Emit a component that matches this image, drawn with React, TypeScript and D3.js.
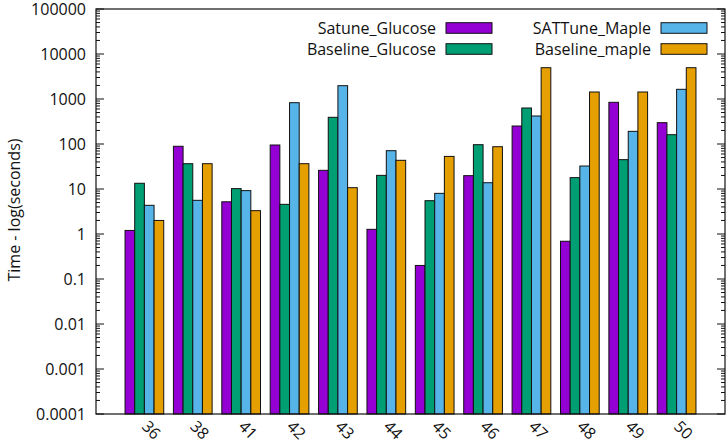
import React from "react";
import * as d3 from "d3";

const categories = ["36", "38", "41", "42", "43", "44", "45", "46", "47", "48", "49", "50"];
const satuneGlucose = [1.2, 89, 5.2, 95, 26, 1.27, 0.2, 19.8, 251, 0.69, 844, 298];
const baselineGlucose = [13.4, 36.5, 10.2, 4.56, 392, 20.1, 5.5, 96.6, 631, 17.9, 44.9, 161];
const sattuneMaple = [4.34, 5.6, 9.2, 828, 1977, 71, 8.0, 13.8, 419, 32.4, 191, 1641];
const baselineMaple = [2.0, 36.5, 3.3, 36.5, 10.7, 43.4, 53, 87, 4960, 1431, 1431, 4960];
const yTickLabels = ["0.0001", "0.001", "0.01", "0.1", "1", "10", "100", "1000", "10000", "100000"];

const series = [
  { name: "Satune_Glucose", values: satuneGlucose, color: "#9400d3" },
  { name: "Baseline_Glucose", values: baselineGlucose, color: "#009e73" },
  { name: "SATTune_Maple", values: sattuneMaple, color: "#56b4e9" },
  { name: "Baseline_maple", values: baselineMaple, color: "#e69f00" },
];

const W = 726;
const H = 443;
const left = 96;
const right = 725;
const top = 9;
const bottom = 414;
const font = "'Open Sans', sans-serif";
const fs = 16;

export default function App() {
  const x = d3.scaleLinear().domain([-1, categories.length]).range([left, right]);
  const y = d3.scaleLog().domain([1e-4, 1e5]).range([bottom, top]);
  const unit = x(1) - x(0);
  const barW = unit * 0.2;

  const majors = yTickLabels.map((t) => +t);
  const minors: number[] = [];
  for (let k = -4; k < 5; k++) {
    for (let m = 2; m <= 9; m++) minors.push(m * Math.pow(10, k));
  }

  // legend: two columns of two entries
  const legendCols = [
    { textEnd: 436, swatchX: 446 },
    { textEnd: 651, swatchX: 661 },
  ];
  const legendRows = [28, 49];

  return (
    <svg
      width={W}
      height={H}
      style={{ position: "absolute", left: 0, top: 0, background: "#fff" }}
      fontFamily={font}
    >
      <rect x={0} y={0} width={W} height={H} fill="#fff" />

      {/* bars */}
      {series.map((s, j) =>
        s.values.map((v, i) => {
          const bx = x(i) - unit * 0.4 + j * barW;
          const by = y(v);
          return (
            <rect
              key={`${j}-${i}`}
              x={bx}
              y={by}
              width={barW}
              height={bottom - by}
              fill={s.color}
              stroke="#111"
              strokeWidth={1}
            />
          );
        })
      )}

      {/* y ticks, mirrored on the right */}
      {majors.map((v, i) => (
        <g key={`M${i}`}>
          <line x1={left} x2={left + 8} y1={y(v)} y2={y(v)} stroke="#111" />
          <line x1={right} x2={right - 8} y1={y(v)} y2={y(v)} stroke="#111" />
          <text
            x={left - 10}
            y={y(v)}
            dy="0.36em"
            textAnchor="end"
            fontSize={fs}
            fill="#111"
          >
            {yTickLabels[i]}
          </text>
        </g>
      ))}
      {minors.map((v, i) => (
        <g key={`m${i}`}>
          <line x1={left} x2={left + 4} y1={y(v)} y2={y(v)} stroke="#111" />
          <line x1={right} x2={right - 4} y1={y(v)} y2={y(v)} stroke="#111" />
        </g>
      ))}

      {/* plot border */}
      <rect
        x={left}
        y={top}
        width={right - left}
        height={bottom - top}
        fill="none"
        stroke="#111"
        strokeWidth={1.2}
      />

      {/* x tick labels */}
      {categories.map((c, i) => (
        <text
          key={c}
          transform={`translate(${x(i) - 3.5},${427.5}) rotate(45)`}
          fontSize={fs}
          fill="#111"
        >
          {c}
        </text>
      ))}

      {/* y axis title */}
      <text
        transform={`translate(20,210) rotate(-90)`}
        textAnchor="middle"
        fontSize={fs}
        fill="#111"
      >
        Time - log(seconds)
      </text>

      {/* legend */}
      {series.map((s, j) => {
        const col = legendCols[Math.floor(j / 2)];
        const ry = legendRows[j % 2];
        return (
          <g key={s.name}>
            <text
              x={col.textEnd}
              y={ry}
              dy="0.36em"
              textAnchor="end"
              fontSize={fs}
              fill="#111"
            >
              {s.name}
            </text>
            <rect
              x={col.swatchX}
              y={ry - 5.3}
              width={46}
              height={10.6}
              fill={s.color}
              stroke="#111"
              strokeWidth={1}
            />
          </g>
        );
      })}
    </svg>
  );
}
